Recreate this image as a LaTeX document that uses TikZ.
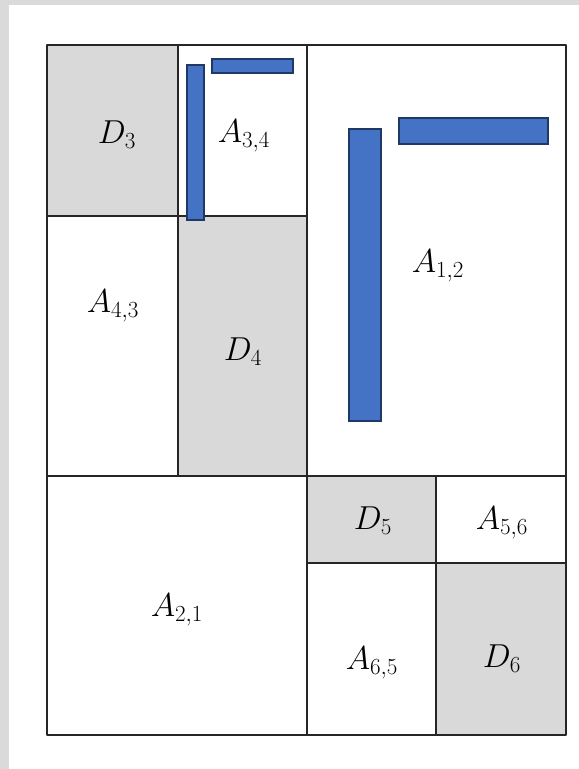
\documentclass[tikz,border=0pt]{standalone}
\begin{document}
\begin{tikzpicture}[x=0.75pt,y=-0.75pt,
  cell/.style={draw=black!85, line width=2.2pt, line join=round},
  graycell/.style={cell, fill=cellgray},
  bar/.style={draw=bardark, fill=barblue, line width=1.2pt},
  lbl/.style={inner sep=0pt, font=\fontsize{26}{30}\selectfont}]
\definecolor{cellgray}{HTML}{D9D9D9}
\definecolor{bggray}{HTML}{DADADA}
\definecolor{barblue}{HTML}{4472C4}
\definecolor{bardark}{HTML}{1F3864}
\useasboundingbox (0,0) rectangle (579,769);
\fill[bggray] (0,0) rectangle (579,769);
\fill[white] (9,5) rectangle (579,769);
% cells
\draw[graycell] (47,45) rectangle (178,216);
\draw[cell] (178,45) rectangle (307,216);
\draw[cell] (47,216) rectangle (178,476);
\draw[graycell] (178,216) rectangle (307,476);
\draw[cell] (307,45) rectangle (566,476);
\draw[cell] (47,476) rectangle (307,735);
\draw[graycell] (307,476) rectangle (436,563);
\draw[cell] (436,476) rectangle (566,563);
\draw[cell] (307,563) rectangle (436,735);
\draw[graycell] (436,563) rectangle (566,735);
% blue bars
\draw[bar] (187,65) rectangle (204,220);
\draw[bar] (212,59) rectangle (293,73);
\draw[bar] (349,129) rectangle (381,421);
\draw[bar] (399,118) rectangle (548,144);
% labels
\node[lbl] (d3) at (117,135) {$D_3$};
\node[lbl] (a34) at (244,136) {$A_{3,4}$};
\node[lbl] (a12) at (438,266) {$A_{1,2}$};
\node[lbl] (a43) at (113,306) {$A_{4,3}$};
\node[lbl] (d4) at (243,352) {$D_4$};
\node[lbl] (a21) at (177,610) {$A_{2,1}$};
\node[lbl] (d5) at (373,521) {$D_5$};
\node[lbl] (a56) at (502,523) {$A_{5,6}$};
\node[lbl] (a65) at (372,663) {$A_{6,5}$};
\node[lbl] (d6) at (502,659) {$D_6$};
\end{tikzpicture}
\end{document}
